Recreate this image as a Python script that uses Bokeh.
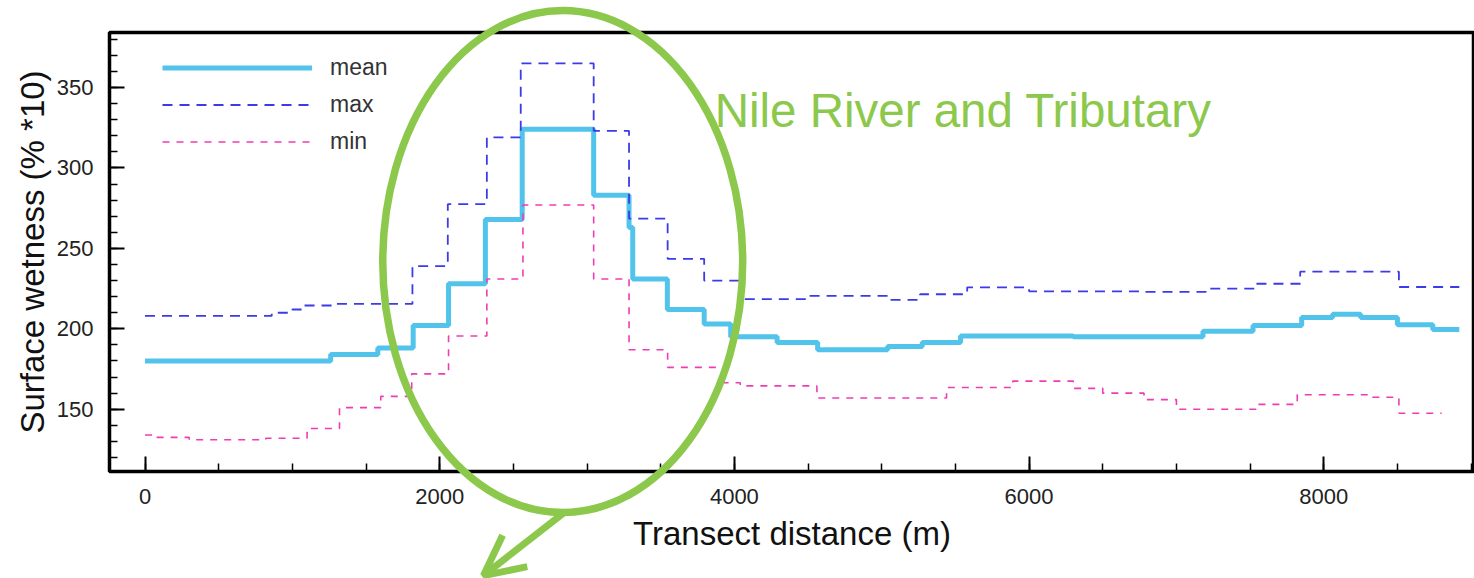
from bokeh.plotting import figure
from bokeh.models import (Range1d, SingleIntervalTicker, Legend, LegendItem,
                          Arrow, OpenHead, Label)
from bokeh.embed import file_html
from bokeh.resources import INLINE

# ---- data (step series, value holds from x until the next x) ----
mean_x = [0, 1260, 1580, 1820, 2060, 2310, 2560, 3045, 3285, 3310, 3545, 3795, 3975,
          4290, 4565, 5040, 5275, 5535, 6300, 6780, 7180, 7520, 7850, 8060, 8250,
          8500, 8740, 8920]
mean_y = [180, 184, 188, 202, 228, 268, 324, 283, 263, 231, 212, 203, 195,
          191.5, 187, 189, 191.5, 195.5, 195, 195, 198.5, 202, 207, 209, 207,
          202.5, 199.5, 199.5]

max_x = [0, 860, 1000, 1080, 1300, 1815, 2055, 2320, 2550, 3045, 3285, 3547, 3795,
         4040, 4510, 5040, 5260, 5580, 6000, 6780, 7200, 7540, 7840, 8510, 8920]
max_y = [208, 210, 212, 214.5, 215.5, 239, 277.5, 319, 365, 323, 268.5, 243.5, 230,
         218.5, 220.5, 218, 221.5, 225.8, 223.3, 223, 225, 228, 235.5, 226, 226]

min_x = [0, 70, 300, 820, 1100, 1320, 1600, 1810, 2060, 2320, 2565, 3045, 3285, 3547,
         3930, 4040, 4560, 5440, 5890, 6300, 6500, 6780, 7000, 7540, 7820, 8300,
         8510, 8800]
min_y = [134, 132.5, 131, 132, 138, 151, 158, 172, 195.5, 231, 277, 231, 187, 176,
         166.5, 164.5, 157, 163.5, 167.5, 163, 160, 156, 150, 153, 159, 157.5,
         147.5, 147.5]

series_labels = ["mean", "max", "min"]
title_text = "Nile River and Tributary"

GREEN = "#8CC84B"
W, H = 1474, 578
BL, BR, BT, BB = 109, 0, 32, 107
X0, X1 = -241, 9023
Y0, Y1 = 111.3, 384.2

p = figure(width=W, height=H, output_backend="svg", toolbar_location=None,
           x_range=Range1d(X0, X1), y_range=Range1d(Y0, Y1),
           min_border_left=BL, min_border_right=BR, min_border_top=BT,
           min_border_bottom=BB)
p.styles = {"position": "absolute", "left": "0px", "top": "0px"}
p.background_fill_color = "white"
p.border_fill_color = "white"
p.grid.visible = False
p.outline_line_color = "black"
p.outline_line_width = 3.5

r_mean = p.step(mean_x, mean_y, mode="after", line_color="#52C3EA", line_width=5)
r_max = p.step(max_x, max_y, mode="after", line_color="#3B3BE8", line_width=1.8,
               line_dash="10 7")
r_min = p.step(min_x, min_y, mode="after", line_color="#F03CB4", line_width=1.6,
               line_dash="7 7")

# axes
for ax in (p.xaxis[0], p.yaxis[0]):
    ax.axis_line_width = 3
    ax.axis_line_color = "black"
    ax.major_tick_in = 15
    ax.major_tick_out = 0
    ax.minor_tick_in = 8
    ax.minor_tick_out = 0
    ax.major_tick_line_width = 2
    ax.minor_tick_line_width = 1.5
    ax.major_tick_line_color = "black"
    ax.minor_tick_line_color = "black"
    ax.major_label_text_font = "Liberation Sans"
    ax.major_label_text_font_size = "22px"
    ax.major_label_text_color = "#222222"
    ax.axis_label_text_font = "Liberation Sans"
    ax.axis_label_text_font_size = "33px"
    ax.axis_label_text_font_style = "normal"
    ax.axis_label_text_color = "#111111"

p.xaxis[0].ticker = SingleIntervalTicker(interval=2000, num_minor_ticks=4)
p.yaxis[0].ticker = SingleIntervalTicker(interval=50, num_minor_ticks=5)
p.xaxis[0].axis_label = "Transect distance (m)"
p.yaxis[0].axis_label = "Surface wetness (% *10)"
p.xaxis[0].major_label_standoff = 17
p.yaxis[0].major_label_standoff = 16
p.xaxis[0].axis_label_standoff = 8
p.yaxis[0].axis_label_standoff = 3

legend = Legend(items=[LegendItem(label=series_labels[0], renderers=[r_mean]),
                       LegendItem(label=series_labels[1], renderers=[r_max]),
                       LegendItem(label=series_labels[2], renderers=[r_min])],
                location=(53, 316), glyph_width=150, glyph_height=25,
                label_height=25, spacing=10, label_standoff=18, padding=0,
                margin=0, border_line_alpha=0, background_fill_alpha=0,
                label_text_font="Liberation Sans", label_text_font_size="23px",
                label_text_color="#333333")
p.add_layout(legend, "center")

p.add_layout(Label(x=3866, y=335.5, text=title_text, text_color=GREEN,
                   text_font="Liberation Sans", text_font_size="47.5px",
                   text_baseline="alphabetic"))

# transparent overlay figure covering the whole canvas, same data mapping,
# so the green highlight can extend past the plot frame
sx = (X1 - X0) / (W - BL - BR)
sy = (Y1 - Y0) / (H - BT - BB)
q = figure(width=W, height=H, output_backend="svg", toolbar_location=None,
           x_range=Range1d(X0 - BL * sx, X1 + BR * sx),
           y_range=Range1d(Y0 - BB * sy, Y1 + BT * sy),
           min_border=0, x_axis_type=None, y_axis_type=None)
q.styles = {"position": "absolute", "left": "0px", "top": "0px"}
q.background_fill_color = None
q.border_fill_color = None
q.outline_line_color = None
q.grid.visible = False

q.ellipse(x=[2835], y=[241.8], width=[2443], height=[312], fill_alpha=0,
          line_color=GREEN, line_width=7.5)
q.add_layout(Arrow(end=OpenHead(size=40, line_width=7, line_color=GREEN),
                   x_start=2854, y_start=86.5, x_end=2297, y_end=46.6,
                   line_color=GREEN, line_width=7))

open("out.html", "w").write(file_html([p, q], INLINE))
